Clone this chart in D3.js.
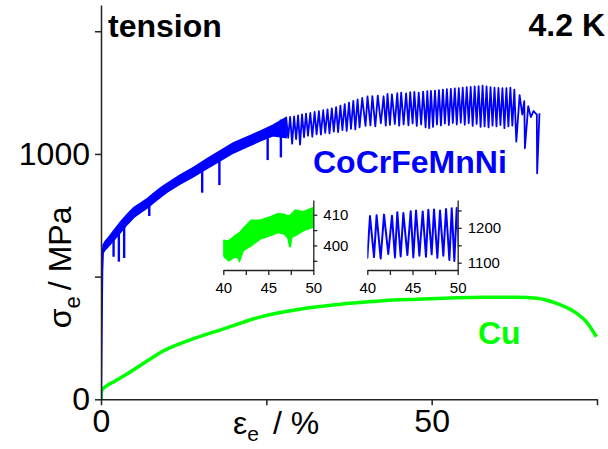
<!DOCTYPE html>
<html><head><meta charset="utf-8">
<script src="https://cdn.jsdelivr.net/npm/d3@7"></script>
<style>
body{margin:0;background:#fff}
svg{display:block}
text{font-family:"Liberation Sans",Arial,sans-serif}
</style>
</head><body>
<svg id="c" width="608" height="449"></svg>
<script>
// ---------- data (strain %, stress MPa) ----------
const cuStrain = [0, 0.1, 0.6, 2.1, 4.1, 7.2, 9.2, 14.2, 18.3, 24.3, 29.3, 34.4, 37.7, 42.7, 47.8, 52.8, 57.8, 62.9, 65.9, 68.9, 71.9, 73.4, 74.9];
const cuStress = [0, 36, 50, 74, 106, 160, 194, 249, 285, 337, 364, 382, 391, 402, 408, 413, 416, 416, 412, 391, 351, 316, 255];

const elasticStrain = [0, 0.08, 0.18, 0.3];
const elasticStress = [0, 250, 520, 615];

const bandStrain = [0.3, 0.6, 1, 2, 3, 4, 5, 6, 7, 8, 9, 10, 12, 14, 16, 18, 20, 22, 24, 26, 28];
const bandUpper  = [628, 642, 655, 690, 725, 755, 782, 800, 818, 840, 862, 880, 915, 945, 980, 1012, 1045, 1068, 1092, 1117, 1148];
const bandLower  = [596, 608, 620, 650, 682, 714, 742, 762, 780, 802, 824, 844, 878, 908, 940, 972, 1004, 1028, 1052, 1074, 1066];

const spikeStrain = [1.9, 2.7, 3.5, 7.3, 15.3, 17.9, 25.2, 27.2];
const spikeTop    = [675, 700, 735, 820, 960, 1000, 1105, 1140];
const spikeBottom = [581, 561, 576, 747, 842, 873, 975, 986];

const serrPoints = [
 [28.0,1148],[28.3,1066],[28.6,1151],[28.9,1042],[29.2,1153],[29.5,1060],[29.8,1157],[30.1,1038],
 [30.4,1161],[30.7,1068],[31.0,1164],[31.3,1074],[31.65,1167],[31.95,1070],[32.3,1171],[32.6,1080],
 [32.95,1174],[33.25,1079],[33.6,1178],[33.9,1086],[34.25,1182],[34.55,1084],[34.9,1186],[35.2,1091],
 [35.55,1191],[35.85,1089],[36.2,1197],[36.5,1097],[36.85,1203],[37.15,1094],[37.5,1209],[37.8,1102],
 [38.15,1216],[38.45,1100],[38.8,1222],[39.1,1108],[39.5,1228],[40.0,1114],[40.3,1234],[40.74,1116],
 [41.03,1236],[41.48,1112],[41.85,1238],[42.32,1125],[42.73,1235],[43.06,1115],[43.32,1245],[43.69,1118],
 [43.99,1243],[44.43,1122],[44.8,1248],[45.09,1115],[45.39,1250],[45.76,1120],[46.13,1247],[46.49,1117],
 [46.75,1252],[47.12,1124],[47.38,1253],[47.75,1114],[48.04,1250],[48.41,1120],[48.71,1254],[49.08,1108],
 [49.34,1256],[49.63,1105],[49.89,1257],[50.2,1110],[50.5,1258],[50.8,1120],[51.1,1260],[51.4,1116],
 [51.7,1262],[52.0,1124],[52.3,1264],[52.6,1118],[52.9,1265],[53.2,1126],[53.5,1267],[53.8,1120],
 [54.1,1268],[54.4,1127],[54.7,1270],[55.0,1119],[55.3,1272],[55.6,1125],[55.9,1273],[56.2,1114],
 [56.5,1275],[56.8,1122],[57.1,1276],[57.4,1110],[57.7,1278],[58.0,1112],[58.3,1275],[58.6,1108],
 [58.9,1272],[59.2,1115],[59.5,1270],[59.8,1112],[60.1,1269],[60.4,1118],[60.7,1268],[61.0,1105],
 [61.3,1268],[61.6,1112],[61.9,1270],[62.2,1115],[62.5,1262],[62.8,1050],[63.3,1240],[63.7,1160],
 [64.0,1215],[64.1,1023],[64.6,1195],[65.0,1150],[65.4,1175],[65.9,1160],[65.95,921],[66.3,1166]
];

const cuInsetStrain = [40.0, 40.6, 41.5, 41.8, 42.2, 43.1, 44.1, 45.2, 46.1, 46.8, 47.2, 47.4, 47.6, 48.0, 48.9, 50.0];
const cuInsetUpper  = [401.6, 401.4, 403.5, 404.0, 405.4, 408.1, 408.1, 409.2, 410.3, 410.0, 409.5, 409.7, 410.2, 411.4, 410.9, 412.2];
const cuInsetLower  = [396.7, 395.1, 396.7, 395.1, 398.4, 400.0, 402.2, 403.3, 404.3, 403.8, 402.5, 399.5, 402.8, 403.3, 404.9, 406.0];

const xTicksMain = [0, 25, 50, 75];
const xLabelsMain = [0, 50];
const yTicksMain = [0, 500, 1000, 1500];
const yLabelsMain = [0, 1000];
const insetXTicks = [40, 42.5, 45, 47.5, 50];
const insetXLabels = [40, 45, 50];
const cuInsetYTicks = [395, 400, 405, 410];
const cuInsetYLabels = [400, 410];
const heaInsetYTicks = [1100, 1150, 1200, 1250];
const heaInsetYLabels = [1100, 1200];

// ---------- drawing ----------
const BLUE = "#0000ff", GREEN = "#00ff00", AX = "#222";
const svg = d3.select("#c");

const x = d3.scaleLinear([0, 75], [101, 597]);
const y = d3.scaleLinear([0, 1607], [399.3, 5]);

svg.append("clipPath").attr("id","mainclip").append("rect")
  .attr("x", 101).attr("y", 0).attr("width", 497).attr("height", 400);

const g = svg.append("g").attr("clip-path","url(#mainclip)");
const line = d3.line().x(d => x(d[0])).y(d => y(d[1]));

// Cu main curve
g.append("path").datum(d3.zip(cuStrain, cuStress))
  .attr("d", line.curve(d3.curveMonotoneX))
  .attr("fill","none").attr("stroke",GREEN).attr("stroke-width",3.5).attr("stroke-linejoin","round");
line.curve(d3.curveLinear);

// HEA elastic part
g.append("path").datum(d3.zip(elasticStrain, elasticStress))
  .attr("d", line).attr("fill","none").attr("stroke",BLUE).attr("stroke-width",2.2);

// HEA noisy band
const area = d3.area().x(d => x(d[0])).y0(d => y(d[2])).y1(d => y(d[1]));
g.append("path").datum(d3.zip(bandStrain, bandUpper, bandLower))
  .attr("d", area).attr("fill",BLUE).attr("stroke",BLUE).attr("stroke-width",1.5);

// HEA drop spikes
spikeStrain.forEach((s,i) => {
  g.append("path").datum([[s, spikeTop[i]], [s, spikeBottom[i]]])
    .attr("d", line).attr("stroke",BLUE).attr("stroke-width",2.4).attr("fill","none");
});

// HEA serrations
g.append("path").datum(serrPoints).attr("d", line)
  .attr("fill","none").attr("stroke",BLUE).attr("stroke-width",1.8).attr("stroke-linejoin","round");

// main axes
const fmtY = d => yLabelsMain.includes(d) ? String(d) : "";
const fmtX = d => xLabelsMain.includes(d) ? String(d) : "";
const ya = svg.append("g").attr("transform","translate(101,0)")
  .call(d3.axisLeft(y).tickValues(yTicksMain).tickSize(6).tickSizeOuter(0).tickPadding(5).tickFormat(fmtY));
const xa = svg.append("g").attr("transform","translate(0,399.3)")
  .call(d3.axisBottom(x).tickValues(xTicksMain).tickSize(6).tickSizeOuter(0).tickPadding(4).tickFormat(fmtX));
[ya, xa].forEach(a => {
  a.selectAll("path,line").attr("stroke",AX).attr("stroke-width",1.5);
  a.selectAll("text").attr("font-size",32).attr("fill","#000").attr("font-family","Liberation Sans, Arial, sans-serif");
});

// insets
function inset(x0, x1, yDom, yTicks, yLabels, drawFn) {
  const xi = d3.scaleLinear([40, 50], [x0, x1]);
  const yi = d3.scaleLinear(yDom, [270, 200]);
  const id = "clip" + Math.round(x0);
  svg.append("clipPath").attr("id", id).append("rect")
    .attr("x", x0).attr("y", 200).attr("width", x1 - x0).attr("height", 70);
  const gi = svg.append("g").attr("clip-path", `url(#${id})`);
  drawFn(gi, xi, yi);
  const ax1 = svg.append("g").attr("transform", `translate(0,270)`)
    .call(d3.axisBottom(xi).tickValues(insetXTicks).tickSize(5).tickSizeOuter(0).tickPadding(7)
      .tickFormat(d => insetXLabels.includes(d) ? String(d) : ""));
  const ax2 = svg.append("g").attr("transform", `translate(${x1},0)`)
    .call(d3.axisRight(yi).tickValues(yTicks).tickSize(4).tickSizeOuter(0).tickPadding(6)
      .tickFormat(d => yLabels.includes(d) ? String(d) : ""));
  [ax1, ax2].forEach(a => {
    a.selectAll("path,line").attr("stroke",AX).attr("stroke-width",1.3);
    a.selectAll("text").attr("font-size",15).attr("fill","#000").attr("font-family","Liberation Sans, Arial, sans-serif");
  });
}

inset(223.3, 313.3, [392, 414.8], cuInsetYTicks, cuInsetYLabels, (gi, xi, yi) => {
  const ar = d3.area().x(d => xi(d[0])).y0(d => yi(d[2])).y1(d => yi(d[1]));
  gi.append("path").datum(d3.zip(cuInsetStrain, cuInsetUpper, cuInsetLower))
    .attr("d", ar).attr("fill",GREEN).attr("stroke",GREEN).attr("stroke-width",2);
});

inset(367.3, 457.7, [1079, 1280], heaInsetYTicks, heaInsetYLabels, (gi, xi, yi) => {
  const li = d3.line().x(d => xi(d[0])).y(d => yi(d[1]));
  gi.append("path").datum(serrPoints.filter(p => p[0] >= 39.4 && p[0] <= 50.6))
    .attr("d", li).attr("fill","none").attr("stroke",BLUE).attr("stroke-width",2).attr("stroke-linejoin","round");
});

// texts
svg.append("text").attr("x",108).attr("y",37).attr("font-size",32).attr("font-weight","bold").text("tension");
svg.append("text").attr("x",605).attr("y",36).attr("text-anchor","end").attr("font-size",32).attr("font-weight","bold").text("4.2 K");
svg.append("text").attr("x",313).attr("y",173).attr("font-size",32).attr("font-weight","bold").attr("fill",BLUE).text("CoCrFeMnNi");
svg.append("text").attr("x",478).attr("y",344).attr("font-size",32).attr("font-weight","bold").attr("fill",GREEN).text("Cu");

// axis titles
const xt = svg.append("text").attr("x",233).attr("y",434).attr("font-size",32);
xt.append("tspan").text("ε");
xt.append("tspan").attr("font-size",21).attr("dy",7).text("e");
xt.append("tspan").attr("dy",-7).attr("dx",14).text("/");
xt.append("tspan").attr("dx",9).text("%");

const yt = svg.append("text").attr("transform","translate(71,206.5) rotate(-90)").attr("text-anchor","end").attr("font-size",32);
yt.append("tspan").text("σ");
yt.append("tspan").attr("font-size",22).attr("dy",9).text("e");
yt.append("tspan").attr("dy",-9).attr("dx",6).text("/");
yt.append("tspan").attr("dx",9).text("MPa");
</script>
</body></html>
